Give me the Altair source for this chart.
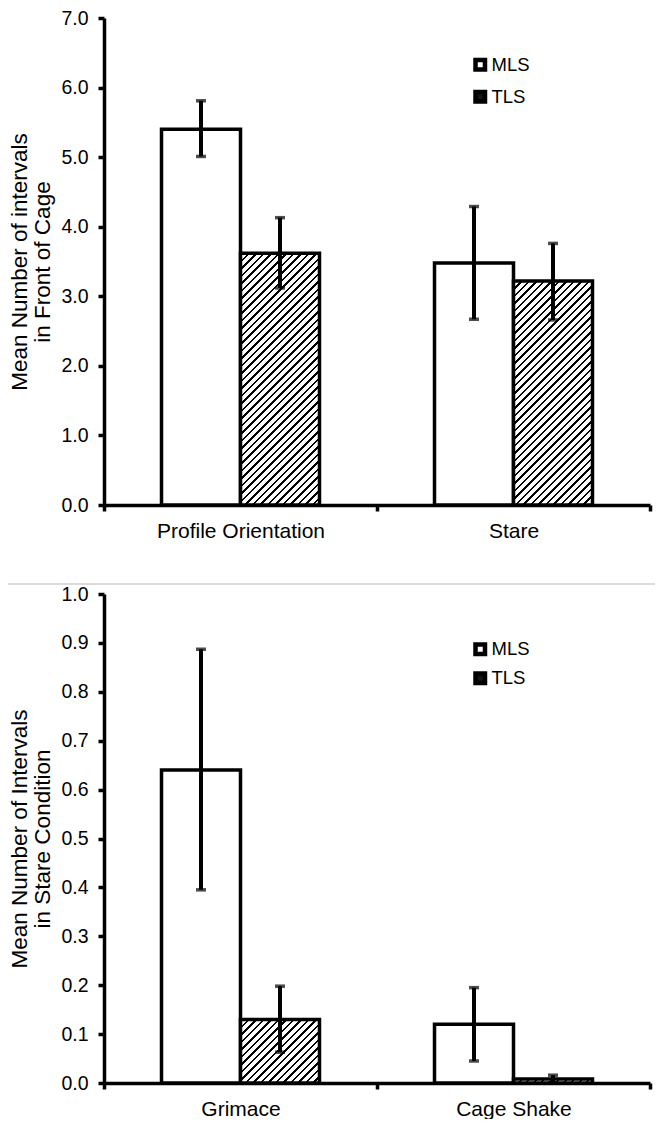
import altair as alt
import pandas as pd

# ---------------- data ----------------
series = ["MLS", "TLS"]

top_categories = ["Profile Orientation", "Stare"]
top_mls_mean = [5.40, 3.48]
top_mls_lo = [5.01, 2.67]
top_mls_hi = [5.81, 4.29]
top_tls_mean = [3.62, 3.22]
top_tls_lo = [3.12, 2.66]
top_tls_hi = [4.13, 3.76]

bottom_categories = ["Grimace", "Cage Shake"]
bot_mls_mean = [0.64, 0.12]
bot_mls_lo = [0.395, 0.045]
bot_mls_hi = [0.887, 0.195]
bot_tls_mean = [0.13, 0.008]
bot_tls_lo = [0.063, 0.0]
bot_tls_hi = [0.198, 0.016]

top_ticks = [0, 1, 2, 3, 4, 5, 6, 7]
bottom_ticks = [0, 0.1, 0.2, 0.3, 0.4, 0.5, 0.6, 0.7, 0.8, 0.9, 1.0]

FONT = "Liberation Sans"


def hatch(w, h, period=7.5, frac=0.32):
    """Diagonal '///' hatching as a hard-stop linear gradient for a w x h bar."""
    w = max(w, 1.0)
    h = max(h, 1.0)
    d = w * w + h * h
    a = w * (w + h) / d
    b = h * (w + h) / d
    n = (w + h) / period
    stops = []
    k = 0
    while k < n:
        o0 = k / n
        o1 = min((k + frac) / n, 1.0)
        o2 = min((k + 1) / n, 1.0)
        stops += [
            {"offset": o0, "color": "black"},
            {"offset": o1, "color": "black"},
            {"offset": o1, "color": "white"},
            {"offset": o2, "color": "white"},
        ]
        k += 1
    return {"gradient": "linear", "x1": 0, "y1": 0, "x2": a, "y2": b, "stops": stops}


def panel(categories, mls_mean, mls_lo, mls_hi, tls_mean, tls_lo, tls_hi,
          ymax, ticks, ytitle, width, height, outer_pad, legend_x, legend_y,
          row_pad, separator=False):
    rows = []
    for i, c in enumerate(categories):
        rows.append({"cat": c, "series": "MLS", "mean": mls_mean[i], "lo": mls_lo[i], "hi": mls_hi[i]})
        rows.append({"cat": c, "series": "TLS", "mean": tls_mean[i], "lo": tls_lo[i], "hi": tls_hi[i]})
    df = pd.DataFrame(rows)

    xenc = alt.X("cat:N", sort=categories,
                 scale=alt.Scale(paddingInner=0, paddingOuter=0),
                 axis=alt.Axis(title=None, labelAngle=0, tickBand="extent",
                               labelFontSize=21, labelPadding=9, labelColor="black",
                               labelFont=FONT))
    xoff = alt.XOffset("series:N", sort=series,
                       scale=alt.Scale(domain=series, paddingInner=0, paddingOuter=outer_pad))
    yscale = alt.Scale(domain=[0, ymax], nice=False, zero=True)
    yaxis = alt.Axis(title=ytitle, values=ticks, format=".1f", labelFontSize=19.5,
                     labelFont=FONT, labelColor="black", labelPadding=10,
                     titleFont=FONT, titleFontSize=22.5, titleFontWeight="normal",
                     titleLineHeight=23, titleColor="black", titlePadding=6)

    base = alt.Chart(df)

    mls_bars = base.transform_filter(alt.datum.series == "MLS").mark_bar(
        stroke="black", strokeWidth=3.5
    ).encode(
        x=xenc, xOffset=xoff,
        y=alt.Y("mean:Q", scale=yscale, axis=yaxis),
        fill=alt.Fill("series:N", scale=alt.Scale(domain=series, range=["white", "#151515"]),
                      legend=alt.Legend(title=None, orient="none", legendX=legend_x,
                                        legendY=legend_y, symbolType="square",
                                        symbolSize=90, symbolStrokeColor="black",
                                        symbolStrokeWidth=4.5, labelFontSize=18.5,
                                        labelFont=FONT, labelColor="black",
                                        rowPadding=row_pad, labelOffset=2, padding=0)),
    )

    bar_w = (width / len(categories)) / (2 + 2 * outer_pad)
    layers = [mls_bars]
    for i, c in enumerate(categories):
        h = tls_mean[i] / ymax * height
        layers.append(
            base.transform_filter((alt.datum.series == "TLS") & (alt.datum.cat == c)).mark_bar(
                stroke="black", strokeWidth=3.5, fill=hatch(bar_w, h)
            ).encode(x=xenc, xOffset=xoff, y=alt.Y("mean:Q", scale=yscale, axis=yaxis))
        )

    err = base.mark_rule(color="black", strokeWidth=4).encode(
        x=xenc, xOffset=xoff, y=alt.Y("lo:Q", scale=yscale, axis=yaxis), y2="hi:Q"
    )
    cap_hi = base.mark_tick(color="black", thickness=3.5, size=10, orient="horizontal").encode(
        x=xenc, xOffset=xoff, y=alt.Y("hi:Q", scale=yscale, axis=yaxis)
    )
    cap_lo = base.mark_tick(color="black", thickness=3.5, size=10, orient="horizontal").encode(
        x=xenc, xOffset=xoff, y=alt.Y("lo:Q", scale=yscale, axis=yaxis)
    )
    layers += [err, cap_hi, cap_lo]

    if separator:
        sep = alt.Chart(pd.DataFrame({"k": [0]})).mark_rule(
            color="#cfcfcf", strokeWidth=1.5
        ).encode(x=alt.value(-98), x2=alt.value(551), y=alt.value(-10))
        layers.append(sep)

    return alt.layer(*layers).properties(width=width, height=height)


top = panel(top_categories, top_mls_mean, top_mls_lo, top_mls_hi,
            top_tls_mean, top_tls_lo, top_tls_hi,
            7, top_ticks, ["Mean Number of intervals", "in  Front of Cage"],
            546, 487, 0.728, 367, 37.5, 4)
bottom = panel(bottom_categories, bot_mls_mean, bot_mls_lo, bot_mls_hi,
               bot_tls_mean, bot_tls_lo, bot_tls_hi,
               1.0, bottom_ticks, ["Mean Number of Intervals", "in Stare Condition"],
               546, 489, 0.728, 367, 46, 1, separator=True)

chart = alt.vconcat(top, bottom, spacing=42).resolve_scale(
    fill="independent", x="independent", y="independent", xOffset="independent"
).resolve_legend(fill="independent").configure(
    padding={"top": 0, "left": -3, "right": 0, "bottom": 0}, background="white"
).configure_view(stroke=None).configure_axis(
    grid=False, domainColor="black", domainWidth=3.5, tickColor="black",
    tickWidth=3.5, tickSize=6
)

chart.save("out.html", embed_options={"renderer": "svg", "actions": False})
